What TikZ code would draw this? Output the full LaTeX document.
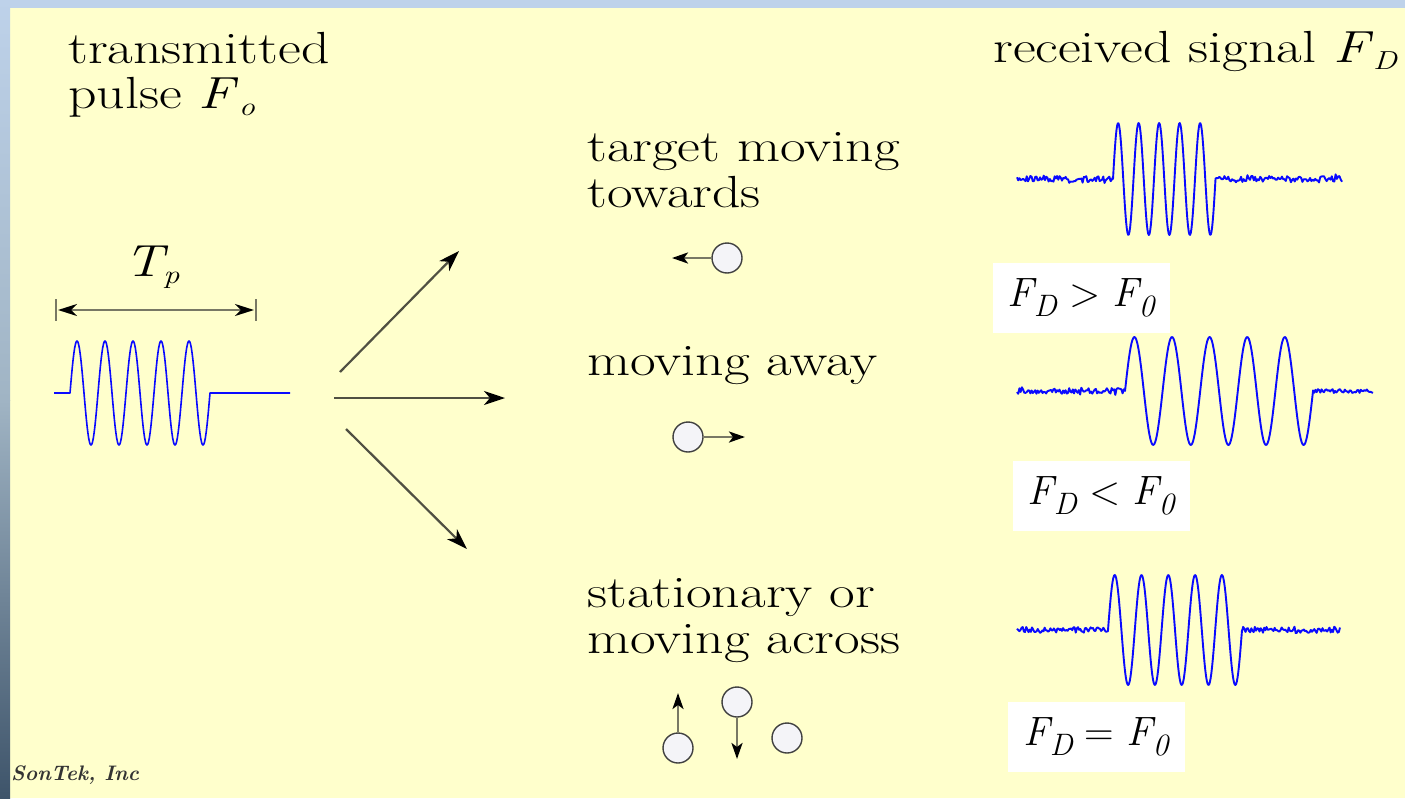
\documentclass[tikz,border=0pt]{standalone}
\usepackage{fontspec}
\usetikzlibrary{arrows.meta}
\definecolor{panel}{RGB}{255,255,204}
\definecolor{skytop}{RGB}{190,210,234}
\definecolor{skymid}{RGB}{160,180,196}
\definecolor{skybot}{RGB}{62,84,106}
\definecolor{shaft}{RGB}{80,80,66}
\definecolor{dimshaft}{RGB}{120,120,100}
\definecolor{wave}{RGB}{10,10,255}
\definecolor{ball}{RGB}{244,244,248}
\tikzset{
  lbl/.style={font=\fontsize{45}{46}\selectfont, xscale=1.24, anchor=base west, inner sep=0pt},
  pulsewave/.style={draw=wave, line width=1.6pt, line join=round},
  rxwave/.style={draw=wave, line width=1.9pt, line join=round},
  bigarrow/.style={draw=shaft, line width=2.2pt, -{Stealth[color=black,length=21pt,width=14pt,inset=6pt]}},
  marrow/.style={draw=dimshaft, line width=2.6pt, -{Stealth[color=black,length=16pt,width=11pt,inset=4pt]}},
  dimarrow/.style={draw=dimshaft, line width=2.4pt, {Stealth[color=black,length=19pt,width=12pt,inset=6pt]}-{Stealth[color=black,length=19pt,width=12pt,inset=6pt]}},
  target/.style={circle, draw=black!75, line width=1.4pt, fill=ball, minimum size=30pt, inner sep=0pt},
  eqbox/.style={fill=white, minimum width=177pt, minimum height=70pt, inner sep=0pt},
}
\newcommand{\eqsub}[1]{\raisebox{-10pt}{\fontsize{31}{31}\selectfont\itshape #1}}
\newcommand{\lmsub}[1]{\raisebox{-7pt}{\fontsize{26}{26}\selectfont\itshape #1}}
\newcommand{\eqtext}[1]{\fontsize{41}{41}\selectfont\itshape F\eqsub{D}\upshape\hspace{0.3em}#1\hspace{0.3em}\itshape F\eqsub{0}}
\begin{document}
\begin{tikzpicture}[x=1pt,y=-1pt]
\useasboundingbox (0,0) rectangle (1405,798);
% background
\fill[skytop] (0,0) rectangle (1405,798);
\fill[panel] (10,8) rectangle (1405,798);
\shade[top color=skytop, bottom color=skymid] (0,0) rectangle (10,400);
\shade[top color=skymid, bottom color=skybot] (0,400) rectangle (10,798);
% credit
\node[anchor=base west, inner sep=0pt, font=\itshape\bfseries\fontsize{21}{21}\selectfont, text=black!80] (credit) at (11,780) {SonTek, Inc};
% texts
\node[lbl] (tx1) at (68,63) {transmitted};
\node[lbl] (tx2) at (68,108) {pulse \textit{F}\lmsub{o}};
\node[lbl] (rx) at (993,62) {received signal \textit{F}\lmsub{D}};
\node[lbl] (tow1) at (587,161) {target moving};
\node[lbl] (tow2) at (587,207) {towards};
\node[lbl] (away) at (587,375) {moving away};
\node[lbl] (st1) at (587,607) {stationary or};
\node[lbl] (st2) at (587,653) {moving across};
\node[lbl] (tp) at (124,276) {\textit{T}\kern-4pt\lmsub{p}};
% pulse duration
\draw[dimshaft, line width=1.8pt] (56,299) -- (56,321) (256,299) -- (256,321);
\coordinate (dl) at (58,310);
\coordinate (dr) at (254,310);
\draw[dimarrow] (dl) -- (dr);
% transmitted pulse
\draw[pulsewave] (54,393) -- (70,393) -- plot[domain=70:210,samples=181] (\x,{393-52*sin((\x-70)/28*360)}) -- (290,393);
% fan arrows
\coordinate (f1s) at (340,372); \coordinate (f1e) at (459,251);
\coordinate (f2s) at (334,398); \coordinate (f2e) at (505,398);
\coordinate (f3s) at (346,429); \coordinate (f3e) at (467,549);
\draw[bigarrow] (f1s) -- (f1e);
\draw[bigarrow] (f2s) -- (f2e);
\draw[bigarrow] (f3s) -- (f3e);
% targets
\node[target] (c1) at (727,258) {};
\coordinate (a1) at (672,258);
\draw[marrow] (c1) -- (a1);
\node[target] (c2) at (688,437) {};
\coordinate (a2) at (745,437);
\draw[marrow] (c2) -- (a2);
\node[target] (c3) at (678,748) {};
\coordinate (a3) at (678,693);
\draw[marrow] (c3) -- (a3);
\node[target] (c4) at (737,702) {};
\coordinate (a4) at (737,759);
\draw[marrow] (c4) -- (a4);
\node[target] (c5) at (787,738) {};
% received signals
\pgfmathsetseed{4242}
\draw[rxwave] plot[domain=1017:1113,samples=80] (\x,{179+3*rand+3*rand*rand*rand})
  -- plot[domain=1113:1215.5,samples=150] (\x,{179-56*sin((\x-1113)/20.5*360)})
  -- plot[domain=1215.5:1342,samples=100] (\x,{179+3*rand+3*rand*rand*rand});
\draw[rxwave] plot[domain=1017:1125,samples=90] (\x,{391+3*rand+3*rand*rand*rand})
  -- plot[domain=1125:1313,samples=200] (\x,{391-54*sin((\x-1125)/37.6*360)})
  -- plot[domain=1313:1373,samples=50] (\x,{391+2*rand+2*rand*rand*rand});
\draw[rxwave] plot[domain=1017:1108,samples=80] (\x,{630+3*rand+3*rand*rand*rand})
  -- plot[domain=1108:1242,samples=180] (\x,{630-55*sin((\x-1108)/26.8*360)})
  -- plot[domain=1242:1340,samples=85] (\x,{630+3*rand+3*rand*rand*rand});
% equation boxes
\node[eqbox] (b1) at (1081,298) {\eqtext{>}};
\node[eqbox] (b2) at (1101,496) {\eqtext{<}};
\node[eqbox] (b3) at (1096,737) {\eqtext{=}};
\end{tikzpicture}
\end{document}
